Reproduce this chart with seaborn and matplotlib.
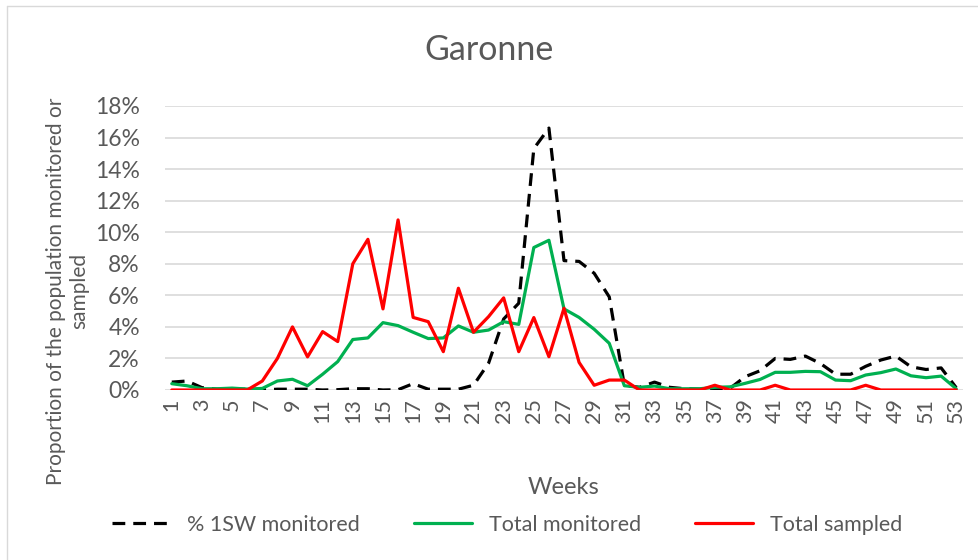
import matplotlib.pyplot as plt
import matplotlib.lines as mlines
import pandas as pd
import seaborn as sns

weeks = list(range(1, 54))

# % of 1SW monitored
pct_1sw = [0.5, 0.57, 0.15, 0.05, 0.05, 0.05, 0.0, 0.05, 0.05, 0.05,
           0.0, 0.02, 0.08, 0.08, 0.0, 0.02, 0.4, 0.05, 0.05, 0.05,
           0.3, 1.7, 4.5, 5.5, 15.3, 16.6, 8.2, 8.15, 7.4, 5.9,
           0.3, 0.17, 0.5, 0.17, 0.08, 0.05, 0.1, 0.1, 0.84, 1.22,
           2.0, 1.94, 2.15, 1.68, 1.0, 1.0, 1.5, 1.9, 2.15, 1.47,
           1.3, 1.4, 0.15]

total_monitored = [0.4, 0.27, 0.08, 0.08, 0.12, 0.06, 0.1, 0.57, 0.68, 0.27,
                   1.0, 1.8, 3.2, 3.3, 4.27, 4.08, 3.66, 3.26, 3.3, 4.06,
                   3.66, 3.8, 4.33, 4.16, 9.03, 9.49, 5.14, 4.6, 3.85, 2.96,
                   0.27, 0.17, 0.25, 0.08, 0.08, 0.08, 0.17, 0.2, 0.42, 0.67,
                   1.12, 1.12, 1.18, 1.16, 0.63, 0.59, 0.95, 1.1, 1.33, 0.9,
                   0.78, 0.88, 0.08]

total_sampled = [0, 0, 0, 0, 0, 0, 0.57, 2.0, 4.0, 2.1,
                 3.7, 3.07, 8.0, 9.55, 5.14, 10.78, 4.6, 4.33, 2.43, 6.45,
                 3.66, 4.65, 5.84, 2.43, 4.59, 2.11, 5.18, 1.75, 0.3, 0.63,
                 0.63, 0, 0, 0, 0, 0, 0.3, 0, 0, 0,
                 0.3, 0, 0, 0, 0, 0, 0.3, 0, 0, 0,
                 0, 0, 0]

series_names = ["% 1SW monitored", "Total monitored", "Total sampled"]
series_colors = ["black", "#00B050", "#FF0000"]

df = pd.DataFrame({"week": weeks,
                   series_names[0]: pct_1sw,
                   series_names[1]: total_monitored,
                   series_names[2]: total_sampled})
long = df.melt(id_vars="week", var_name="series", value_name="pct")
long["pct"] = long["pct"] / 100

sns.set_style("white")
plt.rcParams["font.family"] = ["Lato", "DejaVu Sans"]
grey = "#595959"
dash = (0, (4, 2.5))

fig = plt.figure(figsize=(9.79, 5.6), dpi=100)
ax = fig.add_axes([165 / 979, 1 - 390 / 560, (963 - 165) / 979, (390 - 106) / 560])

styles = ["--", "-", "-"]
for name, col, ls in zip(series_names, series_colors, styles):
    sub = long[long["series"] == name]
    if ls == "--":
        sns.lineplot(data=sub, x="week", y="pct", ax=ax, color=col, linewidth=2.3,
                     linestyle=dash)
    else:
        sns.lineplot(data=sub, x="week", y="pct", ax=ax, color=col, linewidth=2.3)

ax.set_xlim(0.55, 53.45)
ax.set_ylim(0, 0.18)
yt = [i * 0.02 for i in range(10)]
ax.set_yticks(yt)
ax.set_yticklabels([f"{round(v * 100)}%" for v in yt])
ax.set_xticks(weeks[::2])
ax.set_xticklabels([str(w) for w in weeks[::2]], rotation=90)
ax.tick_params(axis="both", length=0, colors=grey)
ax.tick_params(axis="x", pad=6, labelsize=15.5)
ax.tick_params(axis="y", pad=18, labelsize=16.5)
ax.grid(True, axis="y", color="#d9d9d9", linewidth=1.2)
ax.grid(False, axis="x")
sns.despine(ax=ax, left=True, bottom=True)

ax.set_xlabel("Weeks", fontsize=17, color=grey, labelpad=39)
ax.set_ylabel("")
fig.text(68 / 979, 1 - 291 / 560, "Proportion of the population monitored or\nsampled",
         rotation=90, ha="center", va="center", multialignment="center",
         fontsize=15, color=grey)
fig.text(0.5, 1 - 50 / 560, "Garonne", ha="center", va="center", fontsize=24.5, color=grey)

handles = [mlines.Line2D([], [], color=c, linewidth=2.3,
                         linestyle=dash if s == "--" else "-")
           for c, s in zip(series_colors, styles)]
fig.legend(handles, series_names, loc="center", bbox_to_anchor=(0.518, 1 - 525 / 560),
           ncol=3, frameon=False, fontsize=15.5, handlelength=2.7, handletextpad=0.8,
           columnspacing=2.5, labelcolor=grey)

# chart-area border
fig.add_artist(mlines.Line2D([7 / 979, 1], [1 - 6 / 560] * 2, transform=fig.transFigure,
                             color="#d9d9d9", linewidth=1))
fig.add_artist(mlines.Line2D([7 / 979] * 2, [0, 1 - 6 / 560], transform=fig.transFigure,
                             color="#d9d9d9", linewidth=1))

fig.savefig("out.png", dpi=100)
